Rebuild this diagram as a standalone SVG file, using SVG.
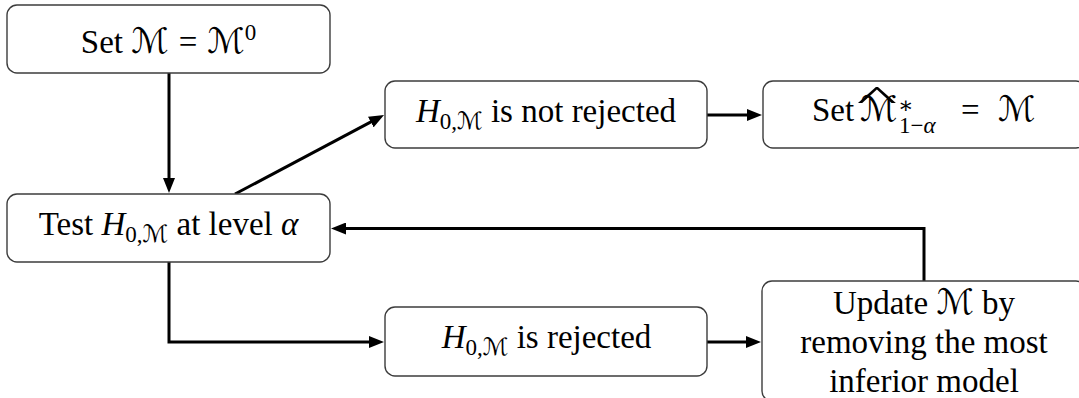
<svg xmlns="http://www.w3.org/2000/svg" width="1079" height="398" viewBox="0 0 1079 398">
  <style>
    .box { fill: #ffffff; stroke: #3c3c3c; stroke-width: 1.4; }
    .conn { fill: none; stroke: #000000; stroke-width: 3; }
    text { font-family: "Liberation Serif", "DejaVu Serif", serif; font-size: 33px; fill: #000000; }
    .it { font-style: italic; }
    .cal { font-family: "DejaVu Sans", "DejaVu Serif", sans-serif; font-style: normal; font-size: 35px; }
    .sm { font-size: 23px; }
    .sm .cal { font-size: 24px; }
  </style>
  <defs>
    <marker id="arrow" viewBox="0 0 15 12" refX="5" refY="6" markerWidth="15" markerHeight="12" markerUnits="userSpaceOnUse" orient="auto">
      <path d="M0,0 L15,6 L0,12 Z" fill="#000000"/>
    </marker>
  </defs>

  <!-- connectors -->
  <g id="connectors">
    <line class="conn" x1="169" y1="73" x2="169" y2="183" marker-end="url(#arrow)"/>
    <line class="conn" x1="235" y1="194" x2="375.2" y2="119.7" marker-end="url(#arrow)"/>
    <line class="conn" x1="707" y1="115" x2="752" y2="115" marker-end="url(#arrow)"/>
    <polyline class="conn" points="924,281 924,228.5 341,228.5" marker-end="url(#arrow)"/>
    <polyline class="conn" points="169,262 169,342 374,342" marker-end="url(#arrow)"/>
    <line class="conn" x1="707" y1="342" x2="751" y2="342" marker-end="url(#arrow)"/>
  </g>

  <!-- start: initial model set -->
  <g id="node-init">
    <rect class="box" x="7" y="5" width="323" height="68" rx="10"/>
    <text x="168.5" y="53" text-anchor="middle">Set <tspan class="cal">ℳ</tspan><tspan dx="10">=</tspan><tspan class="cal" dx="10">ℳ</tspan><tspan class="sm" dy="-13">0</tspan></text>
  </g>

  <!-- equivalence test -->
  <g id="node-test">
    <rect class="box" x="7" y="194" width="323" height="68" rx="10"/>
    <text x="168.5" y="235" text-anchor="middle">Test <tspan class="it">H</tspan><tspan class="sm" dy="7">0,<tspan class="cal">ℳ</tspan></tspan><tspan dy="-7"> at level </tspan><tspan class="it">α</tspan></text>
  </g>

  <!-- null hypothesis kept -->
  <g id="node-not-rejected">
    <rect class="box" x="385" y="81" width="322" height="67" rx="10"/>
    <text x="546" y="122" text-anchor="middle"><tspan class="it">H</tspan><tspan class="sm" dy="7">0,<tspan class="cal">ℳ</tspan></tspan><tspan dy="-7"> is not rejected</tspan></text>
  </g>

  <!-- confidence set output -->
  <g id="node-mcs">
    <rect class="box" x="763" y="81" width="323" height="67" rx="10"/>
    <text x="812" y="121">Set</text>
    <text x="860" y="121" class="cal">ℳ</text>
    <text transform="translate(877,109) scale(2.6,1)" text-anchor="middle" font-size="27">^</text>
    <text x="898" y="113" class="sm">∗</text>
    <text x="899" y="133" class="sm">1−<tspan class="it">α</tspan></text>
    <text x="961" y="121">=</text>
    <text x="998" y="121" class="cal">ℳ</text>
  </g>

  <!-- null hypothesis rejected -->
  <g id="node-rejected">
    <rect class="box" x="385" y="307" width="322" height="69" rx="10"/>
    <text x="546.5" y="348" text-anchor="middle"><tspan class="it">H</tspan><tspan class="sm" dy="7">0,<tspan class="cal">ℳ</tspan></tspan><tspan dy="-7"> is rejected</tspan></text>
  </g>

  <!-- elimination step -->
  <g id="node-update">
    <rect class="box" x="762" y="281" width="324" height="120" rx="10"/>
    <text x="924" y="314" text-anchor="middle">Update <tspan class="cal">ℳ</tspan> by</text>
    <text x="924" y="353" text-anchor="middle">removing the most</text>
    <text x="924" y="392" text-anchor="middle">inferior model</text>
  </g>
</svg>
